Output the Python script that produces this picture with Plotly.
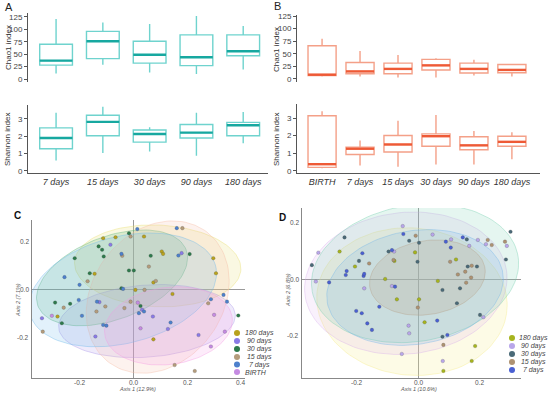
import numpy as np
import plotly.graph_objects as go

W, H = 550, 397
FONT = "Arial, Liberation Sans, sans-serif"

# ---------------- Panel A / B box data ----------------
a_cats = ["7 days", "15 days", "30 days", "90 days", "180 days"]
a_chao_low = [11, 29, 13, 10, 19]
a_chao_q1 = [28, 41, 32, 27, 47]
a_chao_med = [37, 76, 49, 44, 56]
a_chao_q3 = [70, 96, 76, 89, 89]
a_chao_high = [121, 114, 111, 127, 107]

a_sh_low = [0.6, 1.03, 1.12, 0.88, 1.6]
a_sh_q1 = [1.28, 2.03, 1.66, 1.9, 2.03]
a_sh_med = [1.9, 2.83, 2.13, 2.21, 2.63]
a_sh_q3 = [2.48, 3.21, 2.36, 2.68, 2.8]
a_sh_high = [3.35, 3.7, 2.52, 3.35, 3.39]

b_cats = ["BIRTH", "7 days", "15 days", "30 days", "90 days", "180 days"]
b_chao_low = [5, 5, 3, 3, 7, 5]
b_chao_q1 = [7, 10.5, 10.5, 17.7, 11.8, 12.4]
b_chao_med = [8.5, 15, 20, 27, 20, 18]
b_chao_q3 = [66, 32.7, 31.4, 39, 31.4, 28.8]
b_chao_high = [80, 55.6, 47.8, 41, 38, 29.5]

b_sh_low = [0.15, 0.3, 0.23, 0.37, 0.37, 0.66]
b_sh_q1 = [0.2, 0.93, 1.07, 1.4, 1.2, 1.4]
b_sh_med = [0.38, 1.26, 1.5, 1.97, 1.45, 1.65]
b_sh_q3 = [3.13, 1.35, 2.01, 2.1, 1.94, 1.97]
b_sh_high = [3.39, 1.72, 2.85, 3.17, 2.26, 2.2]

# ---------------- Panel C data ----------------
c_groups = ["180 days", "90 days", "30 days", "15 days", "7 days", "BIRTH"]
c_colors = ["#B8A21E", "#8A7BE6", "#2E7A4C", "#B49C7C", "#4D80CC", "#C58BE2"]
c_fill = ["rgba(232,222,110,0.20)", "rgba(165,145,232,0.18)", "rgba(90,180,120,0.20)",
          "rgba(245,185,160,0.18)", "rgba(110,185,235,0.20)", "rgba(245,150,225,0.18)"]
c_x = {
    "180 days": [-0.113, -0.067, 0.039, 0.105, 0.110, 0.297, -0.145, 0.074, 0.307, 0.007, 0.145, -0.283, 0.074],
    "90 days": [-0.086, 0.179, -0.341, -0.127, 0.032, 0.072, -0.142, 0.128, 0.242],
    "30 days": [-0.017, -0.130, -0.117, -0.111, -0.219, 0.064, 0.209, -0.163, -0.017, 0.001, -0.045, -0.292, -0.236, -0.267, 0.026, 0.390],
    "15 days": [-0.011, 0.182, -0.042, 0.057, 0.083, -0.171, 0.041, -0.260, -0.338, -0.105, -0.138, -0.034, -0.011, 0.278, 0.153, 0.228],
    "7 days": [0.014, 0.161, -0.045, 0.167, -0.257, -0.201, -0.039, -0.204, -0.192, -0.136, 0.020, 0.039, -0.113, -0.101, 0.138, 0.288, 0.335, 0.348],
    "BIRTH": [-0.304, 0.016, 0.026, 0.300, 0.340, 0.288],
}
c_y = {
    "180 days": [0.215, 0.219, 0.222, 0.160, 0.150, 0.132, 0.067, 0.031, 0.069, 0.000, -0.017, -0.111, -0.206],
    "90 days": [0.188, 0.153, -0.118, -0.051, -0.083, -0.111, -0.194, -0.163, -0.188],
    "30 days": [0.236, 0.181, 0.167, 0.139, 0.132, 0.142, 0.149, 0.069, 0.081, 0.081, 0.007, -0.053, -0.058, -0.139, -0.067, -0.107],
    "15 days": [0.222, 0.257, 0.142, 0.097, 0.037, 0.036, 0.000, -0.074, -0.174, -0.069, -0.090, -0.076, -0.049, -0.056, -0.313, -0.338],
    "7 days": [0.253, 0.257, 0.150, 0.143, 0.053, 0.021, 0.004, -0.042, -0.108, -0.049, -0.097, -0.090, -0.146, -0.149, -0.136, -0.039, -0.021, -0.049],
    "BIRTH": [-0.108, -0.053, -0.160, -0.104, -0.174, -0.236],
}
# ellipse parameters: centre x, centre y, semi-axis a, semi-axis b, angle (deg)
c_ell = {
    "180 days": (0.09, 0.10, 0.31, 0.17, -3),
    "90 days": (0.05, -0.13, 0.33, 0.15, 5),
    "30 days": (-0.08, 0.05, 0.30, 0.17, 25),
    "15 days": (0.09, -0.03, 0.33, 0.25, 65),
    "7 days": (-0.04, 0.00, 0.36, 0.22, 18),
    "BIRTH": (0.13, -0.15, 0.24, 0.16, 10),
}

# ---------------- Panel D data ----------------
d_groups = ["180 days", "90 days", "30 days", "15 days", "7 days"]
d_colors = ["#A6B41E", "#B8A6EA", "#4A6A78", "#AE9272", "#4A60D2"]
d_fill = ["rgba(245,235,140,0.22)", "rgba(215,170,235,0.16)", "rgba(110,205,170,0.18)",
          "rgba(200,160,120,0.22)", "rgba(110,180,235,0.18)"]
d_x = {
    "180 days": [-0.255, -0.205, -0.107, -0.077, -0.069, -0.010, 0.003, 0.021, 0.064, 0.082, 0.123, 0.185, 0.174],
    "90 days": [-0.324, -0.332, -0.175, -0.078, -0.085, -0.050, -0.031, -0.029, -0.053, 0.047, 0.080, 0.107, 0.166, 0.194, 0.220, 0.212, 0.288],
    "30 days": [-0.345, -0.239, -0.192, -0.096, -0.029, -0.002, 0.003, 0.079, 0.079, 0.126, 0.136, 0.161, 0.158, 0.191, 0.201, 0.300, 0.285],
    "15 days": [-0.159, -0.080, -0.008, -0.001, 0.082, 0.104, 0.153, 0.129, 0.156, 0.172, 0.174, 0.226, 0.239, 0.282],
    "7 days": [-0.289, -0.235, -0.232, -0.181, -0.177, -0.175, -0.201, -0.183, -0.165, -0.150, -0.126, -0.085, -0.075, -0.048, 0.062, 0.095, 0.090, 0.106, 0.145],
}
d_y = {
    "180 days": [0.097, 0.044, 0.000, 0.064, -0.072, 0.094, -0.072, -0.153, -0.007, -0.325, 0.069, -0.237, -0.290],
    "90 days": [0.093, -0.009, -0.033, 0.097, -0.025, 0.187, -0.165, -0.192, -0.265, 0.157, -0.290, 0.140, 0.117, 0.138, 0.123, -0.135, 0.117],
    "30 days": [0.049, 0.147, 0.064, 0.097, 0.135, 0.061, 0.128, -0.039, -0.204, -0.086, -0.033, 0.044, 0.140, 0.044, -0.127, 0.167, 0.069],
    "15 days": [0.055, 0.067, 0.153, -0.101, -0.233, 0.061, 0.026, 0.016, -0.013, 0.005, 0.047, 0.138, 0.120, 0.132],
    "7 days": [-0.012, 0.014, 0.028, 0.091, 0.011, 0.018, -0.113, -0.121, -0.157, -0.180, -0.098, 0.102, -0.027, 0.159, -0.147, -0.198, 0.132, 0.111, 0.147],
}
d_ell = {
    "180 days": (-0.02, -0.08, 0.31, 0.26, -8),
    "90 days": (-0.04, -0.015, 0.33, 0.25, 8),
    "30 days": (-0.01, 0.02, 0.34, 0.24, 12),
    "15 days": (0.03, 0.005, 0.19, 0.13, 12),
    "7 days": (-0.01, -0.03, 0.29, 0.20, 12),
}

c_xticks = [-0.2, 0.0, 0.2, 0.4]
c_yticks = [-0.2, 0.0, 0.2]
d_xticks = [-0.2, 0.0, 0.2]
d_yticks = [-0.2, 0.0, 0.2]

fig = go.Figure()


def px_x(p):
    return p / W


def px_y(p):
    return 1 - p / H


def add_boxes(xa, ya, pos, low, q1, med, q3, high, lc, mc, width):
    fig.add_trace(go.Box(x=pos, q1=q1, median=med, q3=q3, lowerfence=low, upperfence=high,
                         width=width, whiskerwidth=0, boxpoints=False,
                         line=dict(color=lc, width=1.4), fillcolor="rgba(255,255,255,0)",
                         xaxis=xa, yaxis=ya, showlegend=False, hoverinfo="skip"))
    mx, my = [], []
    for p, m in zip(pos, med):
        mx += [p - width / 2, p + width / 2, None]
        my += [m, m, None]
    fig.add_trace(go.Scatter(x=mx, y=my, mode="lines", line=dict(color=mc, width=2.4),
                             xaxis=xa, yaxis=ya, showlegend=False, hoverinfo="skip"))


a_pos = list(range(1, len(a_cats) + 1))
b_pos = list(range(1, len(b_cats) + 1))
A_LINE, A_MED = "#6FD3CE", "#17A8A0"
B_LINE, B_MED = "#F4A088", "#EE5A36"
add_boxes("x", "y", a_pos, a_chao_low, a_chao_q1, a_chao_med, a_chao_q3, a_chao_high, A_LINE, A_MED, 0.7)
add_boxes("x2", "y2", a_pos, a_sh_low, a_sh_q1, a_sh_med, a_sh_q3, a_sh_high, A_LINE, A_MED, 0.7)
add_boxes("x3", "y3", b_pos, b_chao_low, b_chao_q1, b_chao_med, b_chao_q3, b_chao_high, B_LINE, B_MED, 0.74)
add_boxes("x4", "y4", b_pos, b_sh_low, b_sh_q1, b_sh_med, b_sh_q3, b_sh_high, B_LINE, B_MED, 0.74)


def ellipse(params):
    cx, cy, a, b, ang = params
    t = np.linspace(0, 2 * np.pi, 120)
    th = np.deg2rad(ang)
    ex = cx + a * np.cos(t) * np.cos(th) - b * np.sin(t) * np.sin(th)
    ey = cy + a * np.cos(t) * np.sin(th) + b * np.sin(t) * np.cos(th)
    return ex, ey


def add_pcoa(xa, ya, groups, colors, fills, xs, ys, ells):
    for g, c, f in zip(groups, colors, fills):
        ex, ey = ellipse(ells[g])
        fig.add_trace(go.Scatter(x=ex, y=ey, mode="lines", fill="toself", fillcolor=f,
                                 line=dict(color=f.replace("0.2", "0.5").replace("0.1", "0.4"), width=0.8),
                                 xaxis=xa, yaxis=ya, showlegend=False, hoverinfo="skip"))
    for g, c in zip(groups, colors):
        fig.add_trace(go.Scatter(x=xs[g], y=ys[g], mode="markers",
                                 marker=dict(color=c, size=3.6, line=dict(color="rgba(60,60,60,0.5)", width=0.4)),
                                 xaxis=xa, yaxis=ya, showlegend=False, hoverinfo="skip"))


add_pcoa("x5", "y5", c_groups, c_colors, c_fill, c_x, c_y, c_ell)
add_pcoa("x6", "y6", d_groups, d_colors, d_fill, d_x, d_y, d_ell)

tickfont = dict(family=FONT, size=8, color="#444")
AX = dict(showgrid=False, zeroline=False, showline=True, linecolor="#555", linewidth=1,
          ticks="outside", ticklen=3, tickcolor="#555", tickfont=tickfont, automargin=False)
PC = dict(showgrid=False, zeroline=True, zerolinecolor="#9a9a9a", zerolinewidth=1,
          showline=True, linecolor="#888", ticks="", showticklabels=False, automargin=False)

fig.update_layout(
    xaxis=dict(domain=[px_x(28), px_x(268)], range=[0.4, 5.53], anchor="y", showline=False,
               showticklabels=False, ticks="", showgrid=False, zeroline=False),
    yaxis=dict(AX, domain=[px_y(82), px_y(13)], range=[-6, 133], anchor="x",
               tickvals=[0, 25, 50, 75, 100, 125]),
    xaxis2=dict(AX, domain=[px_x(28), px_x(268)], range=[0.4, 5.53], anchor="y2",
                tickvals=a_pos, ticktext=[f"<i>{c}</i>" for c in a_cats], ticks="", tickangle=0,
                tickfont=dict(family=FONT, size=9, color="#333")),
    yaxis2=dict(AX, domain=[px_y(173), px_y(105)], range=[-0.12, 3.8], anchor="x2",
                tickvals=[0, 1, 2, 3]),
    xaxis3=dict(domain=[px_x(297), px_x(540)], range=[0.34, 6.74], anchor="y3", showline=False,
                showticklabels=False, ticks="", showgrid=False, zeroline=False),
    yaxis3=dict(AX, domain=[px_y(82), px_y(15)], range=[-6, 127], anchor="x3",
                tickvals=[0, 25, 50, 75, 100, 125]),
    xaxis4=dict(AX, domain=[px_x(297), px_x(540)], range=[0.34, 6.74], anchor="y4",
                tickvals=b_pos, ticktext=[f"<i>{c}</i>" for c in b_cats], ticks="", tickangle=0,
                tickfont=dict(family=FONT, size=9, color="#333")),
    yaxis4=dict(AX, domain=[px_y(173), px_y(104)], range=[-0.12, 3.8], anchor="x4",
                tickvals=[0, 1, 2, 3]),
    xaxis5=dict(PC, domain=[px_x(32), px_x(245)], range=[-0.378, 0.415], anchor="y5"),
    yaxis5=dict(PC, domain=[px_y(378), px_y(220)], range=[-0.367, 0.291], anchor="x5"),
    xaxis6=dict(PC, domain=[px_x(302), px_x(521)], range=[-0.377, 0.334], anchor="y6"),
    yaxis6=dict(PC, domain=[px_y(378), px_y(208)], range=[-0.35, 0.251], anchor="x6"),
)

ann = []


def text(x, y, s, size=9, color="#333", angle=0, xanchor="center", bold=False, italic=False,
         xref="paper", yref="paper"):
    if bold:
        s = f"<b>{s}</b>"
    if italic:
        s = f"<i>{s}</i>"
    ann.append(dict(x=px_x(x) if xref == "paper" else x, y=px_y(y) if yref == "paper" else y,
                    xref=xref, yref=yref, text=s, showarrow=False, borderpad=0,
                    textangle=angle, xanchor=xanchor, yanchor="middle",
                    font=dict(family=FONT, size=size, color=color)))


def fmt(v):
    return f"{v:.1f}"


text(9, 7, "A", size=11, color="#222")
text(277, 6, "B", size=11, color="#222")
text(17, 215, "C", size=10, color="#111", bold=True)
text(282, 217, "D", size=10, color="#111", bold=True)
text(8, 48, "Chao1 index", size=8, angle=-90)
text(8, 140, "Shannon index", size=8, angle=-90)
text(277, 50, "Chao1 index", size=8, angle=-90)
text(277, 140, "Shannon index", size=8, angle=-90)

# PCoA tick labels
for v in c_xticks:
    text(v, 382, fmt(v), size=6.5, color="#555", xref="x5")
for v in c_yticks:
    text(30, v, fmt(v), size=6.5, color="#555", xanchor="right", yref="y5")
for v in d_xticks:
    text(v, 382, fmt(v), size=6.5, color="#555", xref="x6")
for v in d_yticks:
    text(300, v, fmt(v), size=6.5, color="#555", xanchor="right", yref="y6")

text(18, 300, "Axis 2 (7.1%)", size=5.5, color="#555", angle=-90, italic=True)
text(137, 388.5, "Axis 1 (12.9%)", size=5.5, color="#555", italic=True)
text(288, 290, "Axis 2 (6.8%)", size=5.5, color="#555", angle=-90, italic=True)
text(418, 388.5, "Axis 1 (10.6%)", size=5.5, color="#555", italic=True)

shapes = []
c_leg_y = [333, 341, 349, 357, 364.5, 372]
c_leg_txt = ["180 days", "&nbsp;90 days", "&nbsp;30 days", "&nbsp;15 days", "&nbsp;&nbsp;7 days", "BIRTH"]
for yy, col, lab in zip(c_leg_y, c_colors, c_leg_txt):
    shapes.append(dict(type="circle", xref="paper", yref="paper", xsizemode="pixel", ysizemode="pixel",
                       xanchor=px_x(237), yanchor=px_y(yy), x0=-3, x1=3, y0=-3, y1=3,
                       fillcolor=col, line=dict(width=0)))
    text(244, yy, lab, size=7, color="#444", xanchor="left", italic=True)

d_leg_y = [338, 346, 354, 362, 370]
d_leg_txt = ["180 days", "&nbsp;90 days", "&nbsp;30 days", "&nbsp;15 days", "&nbsp;&nbsp;7 days"]
for yy, col, lab in zip(d_leg_y, d_colors, d_leg_txt):
    shapes.append(dict(type="circle", xref="paper", yref="paper", xsizemode="pixel", ysizemode="pixel",
                       xanchor=px_x(512), yanchor=px_y(yy), x0=-3, x1=3, y0=-3, y1=3,
                       fillcolor=col, line=dict(width=0)))
    text(518, yy, lab, size=7, color="#444", xanchor="left", italic=True)

fig.update_layout(width=W, height=H, margin=dict(l=0, r=0, t=0, b=0),
                  paper_bgcolor="white", plot_bgcolor="rgba(0,0,0,0)",
                  annotations=ann, shapes=shapes, showlegend=False,
                  font=dict(family=FONT))

fig.write_html("out.html", config={"displayModeBar": False},
               post_script="document.body.style.margin='0';document.body.style.overflow='hidden';")
